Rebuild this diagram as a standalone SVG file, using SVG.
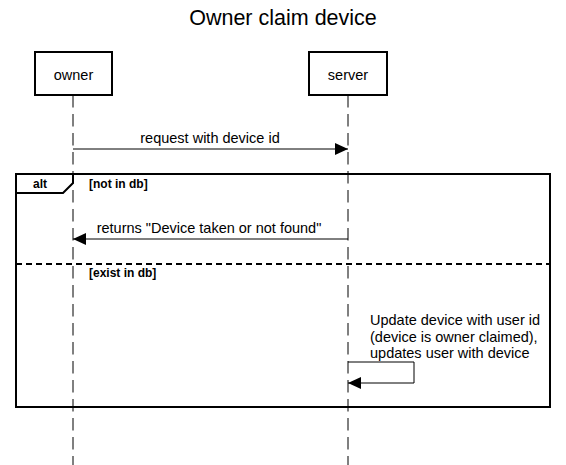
<svg xmlns="http://www.w3.org/2000/svg" width="566" height="465" viewBox="0 0 566 465">
<defs>
<marker id="arr" viewBox="0 0 13 12" refX="13" refY="6" markerWidth="13" markerHeight="12" markerUnits="userSpaceOnUse" orient="auto">
<path d="M0,0 L13,6 L0,12 Z" fill="#000"/>
</marker>
<style>
text{font-family:"Liberation Sans",Arial,sans-serif;fill:#000}
.box{fill:#fff;stroke:#000;stroke-width:2}
.life{stroke:#000;stroke-width:1;stroke-dasharray:12.5 6.5;fill:none}
.msg{stroke:#000;stroke-width:1;fill:none;marker-end:url(#arr)}
.lbl{font-size:14.5px}
.frame{fill:none;stroke:#000;stroke-width:2}
.guard{font-size:12px;font-weight:bold}
</style>
</defs>
<rect width="566" height="465" fill="#fff"/>
<text x="283" y="25" font-size="21.5" text-anchor="middle">Owner claim device</text>
<g id="owner">
<line class="life" x1="73" y1="95" x2="73" y2="465"/>
<rect class="box" x="35" y="52" width="77" height="43"/>
<text class="lbl" x="73.5" y="80" text-anchor="middle">owner</text>
</g>
<g id="server">
<line class="life" x1="348" y1="95" x2="348" y2="465"/>
<rect class="box" x="309" y="52" width="78" height="43"/>
<text class="lbl" x="348" y="80" text-anchor="middle">server</text>
</g>
<g id="alt">
<rect class="frame" x="16" y="174" width="534" height="233"/>
<path class="frame" d="M16,174 L73,174 L73,183 L63,193 L16,193 Z" fill="#fff"/>
<text x="40" y="187.5" font-size="12" font-weight="bold" text-anchor="middle">alt</text>
<text class="guard" x="89" y="187.5">[not in db]</text>
<line x1="16" y1="264" x2="550" y2="264" stroke="#000" stroke-width="2" stroke-dasharray="6 4"/>
<text class="guard" x="89" y="276.5">[exist in db]</text>
</g>
<g id="connectors">
<line class="msg" x1="73" y1="149" x2="348" y2="149"/>
<text class="lbl" x="210" y="143" text-anchor="middle">request with device id</text>
<line class="msg" x1="348" y1="239" x2="73" y2="239"/>
<text class="lbl" x="209" y="233" text-anchor="middle">returns "Device taken or not found"</text>
<path class="msg" d="M348,362 L414,362 L414,383 L348,383"/>
<text class="lbl" x="370" y="325">Update device with user id</text>
<text class="lbl" x="370" y="341.5">(device is owner claimed),</text>
<text class="lbl" x="370" y="358">updates user with device</text>
</g>
</svg>
